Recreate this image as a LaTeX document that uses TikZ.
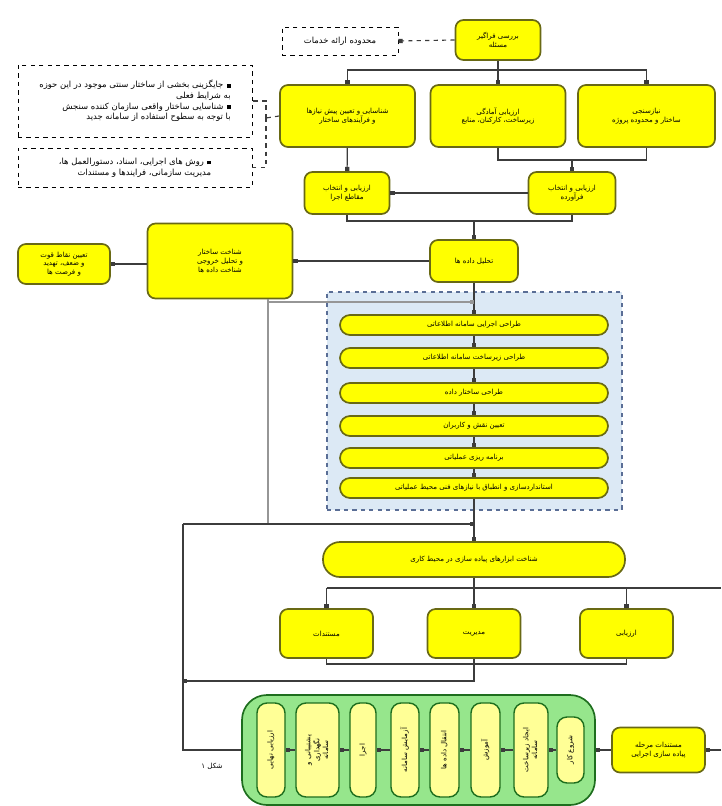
\documentclass[tikz,border=0pt]{standalone}
\usepackage{fontspec}
\usepackage{graphicx}
\newfontfamily\farsi[Script=Arabic]{DejaVu Sans}
\TeXXeTstate=1
\usetikzlibrary{arrows.meta}
\newlength{\pxu}\setlength{\pxu}{0.025cm}
\newcommand{\fa}[1]{{\farsi\beginR #1\endR}}
\newcommand{\bul}{\rule{2.6pt}{2.6pt}}
\newcommand{\vtext}[1]{\rotatebox{90}{\begin{tabular}{@{}c@{}}#1\end{tabular}}}
\definecolor{boxyellow}{RGB}{255,255,0}
\definecolor{boxedge}{RGB}{105,105,20}
\definecolor{panelblue}{RGB}{220,233,245}
\definecolor{paneledge}{RGB}{90,110,150}
\definecolor{panelgreen}{RGB}{150,230,140}
\definecolor{greenedge}{RGB}{30,110,30}
\definecolor{paleyellow}{RGB}{255,255,150}
\definecolor{loopgray}{RGB}{150,150,150}
\definecolor{linegray}{RGB}{60,60,60}

\begin{document}
\begin{tikzpicture}[x=0.025cm, y=-0.025cm, >={Square[length=3pt,width=3pt]},
    font=\fontsize{5}{6.2}\selectfont,
    ybox/.style={draw=boxedge, fill=boxyellow, line width=1.2pt, rounded corners=8\pxu, align=center, inner sep=1pt},
    pill/.style={draw=boxedge, fill=boxyellow, line width=1.2pt, rounded corners=10\pxu, minimum width=268\pxu, minimum height=20\pxu, inner sep=0pt},
    nbox/.style={draw=black, dashed, line width=0.7pt, fill=white, inner sep=2pt, font=\fontsize{6}{7.6}\selectfont},
    panel/.style={draw=paneledge, dashed, line width=1pt, fill=panelblue},
    gpanel/.style={draw=greenedge, fill=panelgreen, line width=1.2pt, rounded corners=25\pxu},
    gpill/.style={draw=greenedge, fill=paleyellow, line width=1pt, rounded corners=10\pxu, minimum width=28\pxu, minimum height=94\pxu, inner sep=0pt},
    wire/.style={draw=linegray, line width=0.8pt},
    conn/.style={wire, ->},
    note/.style={wire, dashed, ->},
    gline/.style={draw=loopgray, line width=1.6pt}]
    \useasboundingbox (0,0) rectangle (721,806);

    % top part
    \node[ybox, minimum width=85\pxu, minimum height=40\pxu] (top) at (498,40) {\fa{بررسی فراگیر}\\\fa{مسئله}};
    \node[nbox, minimum width=116\pxu, minimum height=28\pxu] (topnote) at (340,41) {\fa{محدوده ارائه خدمات}};
    \draw[note] (top.west) -- (topnote.east);

    \node[ybox, minimum width=135\pxu, minimum height=62\pxu] (prereq) at (347.5,116) {\fa{شناسایی و تعیین پیش نیازها}\\\fa{و فرآیندهای ساختار}};
    \node[ybox, minimum width=135\pxu, minimum height=62\pxu] (ready) at (498,116) {\fa{ارزیابی آمادگی}\\\fa{زیرساخت، کارکنان، منابع}};
    \node[ybox, minimum width=137\pxu, minimum height=62\pxu] (needs) at (646.5,116) {\fa{نیازسنجی}\\\fa{ساختار و محدوده پروژه}};
    \coordinate (split1) at (498,70);
    \draw[wire] (top) -- (split1);
    \draw[conn] (split1) -| (prereq);
    \draw[conn] (split1) -| (needs);
    \draw[conn] (split1) -- (ready);

    % notes on the left
    \node[nbox, minimum width=234\pxu, minimum height=72\pxu, align=right] (note1) at (135,101)
        {\fa{جایگزینی بخشی از ساختار سنتی موجود در این حوزه}\ \bul\\
         \fa{به شرایط فعلی}\hspace{6pt}\\
         \fa{شناسایی ساختار واقعی سازمان کننده سنجش}\ \bul\\
         \fa{با توجه به سطوح استفاده از سامانه جدید}\hspace{6pt}};
    \node[nbox, minimum width=234\pxu, minimum height=39\pxu, align=right] (note2) at (135,167.5)
        {\fa{روش های اجرایی، اسناد، دستورالعمل ها،}\ \bul\\
         \fa{مدیریت سازمانی، فرایندها و مستندات}\hspace{6pt}};
    \coordinate (brace) at (266,118);
    \draw[wire, dashed] (prereq.west) -- (brace);
    \draw[wire, dashed] (brace) |- (note1.east);
    \draw[wire, dashed] (brace) |- (note2.east);

    % selection
    \node[ybox, minimum width=85\pxu, minimum height=42\pxu] (sel1) at (347,193) {\fa{ارزیابی و انتخاب}\\\fa{مقاطع اجرا}};
    \node[ybox, minimum width=87\pxu, minimum height=42\pxu] (sel2) at (572,193) {\fa{ارزیابی و انتخاب}\\\fa{فرآورده}};
    \draw[conn] (prereq) -- (sel1);
    \coordinate (bc) at (572,160);
    \draw[wire] (ready.south) -- (ready.south |- bc) -- (needs.south |- bc) -- (needs.south);
    \draw[conn] (bc) -- (sel2);
    \draw[conn] (sel2) -- (sel1);

    \node[ybox, minimum width=88\pxu, minimum height=42\pxu] (anal) at (474,261) {\fa{تحلیل داده ها}};
    \node[ybox, minimum width=145\pxu, minimum height=75\pxu] (struct) at (220,261) {\fa{شناخت ساختار}\\\fa{و تحلیل خروجی}\\\fa{شناخت داده ها}};
    \node[ybox, minimum width=92\pxu, minimum height=40\pxu] (swot) at (64,264) {\fa{تعیین نقاط قوت}\\\fa{و ضعف، تهدید}\\\fa{و فرصت ها}};
    \coordinate (ef) at (474,221);
    \draw[wire] (sel1.south) -- (sel1.south |- ef) -- (sel2.south |- ef) -- (sel2.south);
    \draw[conn] (ef) -- (anal);
    \draw[conn] (anal) -- (struct);
    \draw[conn] (struct.west |- swot) -- (swot);

    % design panel
    \node[panel, minimum width=295\pxu, minimum height=218\pxu] (design) at (474.5,401) {};
    \node[pill] (p1) at (474,325) {\fa{طراحی اجرایی سامانه اطلاعاتی}};
    \node[pill] (p2) at (474,358) {\fa{طراحی زیرساخت سامانه اطلاعاتی}};
    \node[pill] (p3) at (474,393) {\fa{طراحی ساختار داده}};
    \node[pill] (p4) at (474,426) {\fa{تعیین نقش و کاربران}};
    \node[pill] (p5) at (474,458) {\fa{برنامه ریزی عملیاتی}};
    \node[pill] (p6) at (474,488) {\fa{استانداردسازی و انطباق با نیازهای فنی محیط عملیاتی}};
    \draw[conn] (anal) -- (p1);
    \foreach \a/\b in {p1/p2,p2/p3,p3/p4,p4/p5,p5/p6}
        \draw[conn] (\a) -- (\b);
    \coordinate (loopTop) at (268,302);
    \coordinate (grayEnd) at (268,524);
    \draw[gline] (struct.south -| loopTop) -- (grayEnd);
    \draw[gline, ->] (loopTop) -- (loopTop -| p1);

    % tools
    \node[pill, minimum width=302\pxu, minimum height=35\pxu, rounded corners=17\pxu] (tools) at (474,559.5) {\fa{شناخت ابزارهای پیاده سازی در محیط کاری}};
    \coordinate (kin) at (474,524);
    \coordinate (loopL) at (183,524);
    \draw[wire] (p6) -- (kin);
    \draw[conn] (loopL) -- (kin);
    \draw[conn] (kin) -- (tools);

    \node[ybox, minimum width=93\pxu, minimum height=49\pxu] (docs) at (326.5,633.5) {\fa{مستندات}};
    \node[ybox, minimum width=93\pxu, minimum height=49\pxu] (manage) at (474,633.5) {\fa{مدیریت}};
    \node[ybox, minimum width=93\pxu, minimum height=49\pxu] (evalu) at (626.5,633.5) {\fa{ارزیابی}};
    \coordinate (kb) at (474,588);
    \coordinate (redge) at (721,588);
    \draw[wire] (tools) -- (kb);
    \draw[wire] (docs.north |- kb) -- (redge);
    \draw[conn] (kb) -- (manage);
    \draw[conn] (docs.north |- kb) -- (docs);
    \draw[conn] (evalu.north |- kb) -- (evalu);
    \draw[wire] (docs.south) -- (docs.south |- 0,664) -- (evalu.south |- 0,664) -- (evalu.south);
    \coordinate (jl) at (183,681);
    \draw[conn] (manage.south) |- (jl);

    % implementation
    \node[gpanel, minimum width=353\pxu, minimum height=110\pxu] (impl) at (418.5,750) {};
    \node[gpill] (q1) at (271,750) {\vtext{\fa{ارزیابی نهایی}}};
    \node[gpill, minimum width=43\pxu] (q2) at (317.5,750) {\vtext{\fa{پشتیبانی و}\\\fa{نگهداری}\\\fa{سامانه}}};
    \node[gpill, minimum width=26\pxu] (q3) at (363,750) {\vtext{\fa{اجرا}}};
    \node[gpill] (q4) at (405,750) {\vtext{\fa{آزمایش سامانه}}};
    \node[gpill, minimum width=29\pxu] (q5) at (444.5,750) {\vtext{\fa{انتقال داده ها}}};
    \node[gpill, minimum width=29\pxu] (q6) at (485.5,750) {\vtext{\fa{آموزش}}};
    \node[gpill, minimum width=34\pxu] (q7) at (531,750) {\vtext{\fa{ایجاد زیرساخت}\\\fa{سامانه}}};
    \node[gpill, minimum width=27\pxu, minimum height=66\pxu] (q8) at (570.5,750) {\vtext{\fa{شروع کار}}};
    \foreach \a/\b in {q8/q7,q7/q6,q6/q5,q5/q4,q4/q3,q3/q2,q2/q1}
        \draw[conn] (\a) -- (\b);

    \node[ybox, minimum width=93\pxu, minimum height=45\pxu] (final) at (658.5,750) {\fa{مستندات مرحله}\\\fa{پیاده سازی اجرایی}};
    \coordinate (redge2) at (721,750);
    \draw[conn] (redge2) -- (final);
    \draw[conn] (final) -- (impl);
    \draw[wire] (impl.west) -| (loopL);

    \node (cap) at (212,766) {\fa{شکل ۱}};
\end{tikzpicture}
\end{document}
